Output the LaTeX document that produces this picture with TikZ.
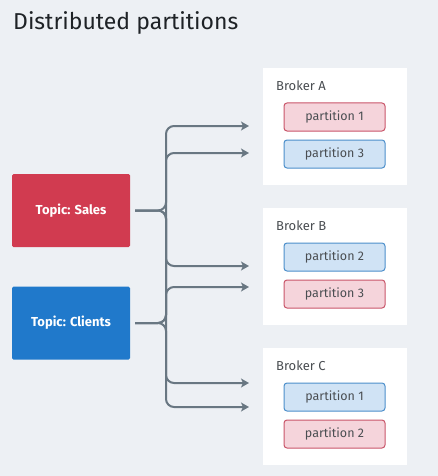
\documentclass[tikz,border=0pt]{standalone}
\usepackage{fontspec}
\setmainfont{Fira Sans}
\usetikzlibrary{arrows.meta}
\definecolor{bg}{HTML}{EDF0F4}
\definecolor{titlec}{HTML}{1E2226}
\definecolor{salesc}{HTML}{D13B50}
\definecolor{clientc}{HTML}{2079CB}
\definecolor{redfill}{HTML}{F5D4DB}
\definecolor{redline}{HTML}{C9566A}
\definecolor{bluefill}{HTML}{D0E3F5}
\definecolor{blueline}{HTML}{4C8FCB}
\definecolor{connc}{HTML}{697782}
\definecolor{labelc}{HTML}{4A4E52}
\begin{document}
\begin{tikzpicture}[x=1pt,y=-1pt,
  topic/.style={rectangle, rounded corners=1.5pt, minimum width=118pt, minimum height=73pt, inner sep=0pt,
    text=white, font=\fontsize{13}{15}\selectfont\bfseries},
  broker/.style={rectangle, fill=white, minimum width=144pt, minimum height=117pt, inner sep=0pt},
  brokerlabel/.style={anchor=west, inner sep=0pt, text=labelc, font=\fontsize{13}{15}\selectfont},
  part/.style={rectangle, rounded corners=3pt, line width=1pt, minimum width=101pt, minimum height=28pt,
    inner sep=0pt, text=labelc, font=\fontsize{12.5}{14}\selectfont},
  redpart/.style={part, fill=redfill, draw=redline},
  bluepart/.style={part, fill=bluefill, draw=blueline},
  conn/.style={draw=connc, line width=2pt, rounded corners=8pt, shorten <=5pt,
    -{Stealth[length=8pt,width=9pt,inset=2pt]}}
]
\useasboundingbox (0,0) rectangle (438,476);
\fill[bg] (0,0) rectangle (438,476);
\node[anchor=base west, inner sep=0pt, text=titlec, font=\fontsize{23}{26}\selectfont] (title) at (13,30) {Distributed partitions};

\node[topic, fill=salesc] (S) at (71,210.5) {Topic: Sales};
\node[topic, fill=clientc] (C) at (71,323) {Topic: Clients};

\node[broker] (BA) at (335,126.5) {};
\node[broker] (BB) at (335,266.5) {};
\node[broker] (BC) at (335,406.5) {};

\node[brokerlabel] (LA) at (276,86) {Broker A};
\node[brokerlabel] (LB) at (276,226) {Broker B};
\node[brokerlabel] (LC) at (276,366) {Broker C};

\node[redpart]  (A1) at (334.5,117) {partition 1};
\node[bluepart] (A3) at (334.5,154) {partition 3};
\node[bluepart] (B2) at (334.5,257) {partition 2};
\node[redpart]  (B3) at (334.5,294) {partition 3};
\node[bluepart] (C1) at (334.5,397) {partition 1};
\node[redpart]  (C2) at (334.5,434) {partition 2};

\coordinate (trunk) at (166,0);
\coordinate (tA1) at (249,126);
\coordinate (tA2) at (249,153);
\coordinate (tB1) at (249,266);
\coordinate (tB2) at (249,287);
\coordinate (tC1) at (249,383);
\coordinate (tC2) at (249,407);

\draw[conn] (S.east) -| (trunk |- tA1) -- (tA1);
\draw[conn] (S.east) -| (trunk |- tB1) -- (tB1);
\draw[conn] (S.east) -| (trunk |- tC2) -- (tC2);
\draw[conn] (C.east) -| (trunk |- tA2) -- (tA2);
\draw[conn] (C.east) -| (trunk |- tB2) -- (tB2);
\draw[conn] (C.east) -| (trunk |- tC1) -- (tC1);
\end{tikzpicture}
\end{document}
